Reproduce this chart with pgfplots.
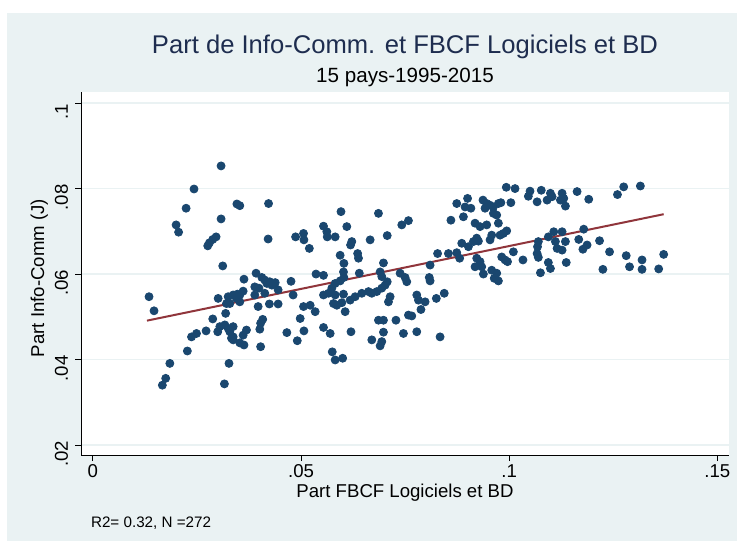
\documentclass[border=0pt]{standalone}
\usepackage{pgfplots}
\pgfplotsset{compat=1.18}
\usepackage{pgfplotstable}
\usepackage{fontspec}
\setmainfont{Liberation Sans}
\definecolor{bgblue}{HTML}{EAF2F3}
\definecolor{gridc}{HTML}{EAF2F3}
\definecolor{stnavy}{HTML}{1A476F}
\definecolor{stmaroon}{HTML}{90353B}
\definecolor{titlec}{HTML}{1E2D4F}

\pgfplotstableread{
x y
0.0308 0.0853
0.0243 0.0799
0.0346 0.0764
0.0353 0.0760
0.0224 0.0754
0.0200 0.0715
0.0206 0.0698
0.0308 0.0729
0.0296 0.0687
0.0288 0.0681
0.0280 0.0673
0.0276 0.0666
0.0312 0.0619
0.0135 0.0547
0.0147 0.0514
0.0301 0.0543
0.0325 0.0547
0.0337 0.0551
0.0347 0.0553
0.0321 0.0531
0.0319 0.0508
0.0288 0.0495
0.0305 0.0477
0.0300 0.0465
0.0317 0.0481
0.0325 0.0473
0.0329 0.0465
0.0333 0.0450
0.0337 0.0453
0.0272 0.0467
0.0249 0.0461
0.0237 0.0453
0.0227 0.0420
0.0185 0.0391
0.0175 0.0356
0.0167 0.0340
0.0327 0.0391
0.0316 0.0343
0.0353 0.0535
0.0353 0.0439
0.0422 0.0765
0.0421 0.0682
0.0487 0.0687
0.0506 0.0695
0.0507 0.0680
0.0520 0.0660
0.0554 0.0712
0.0562 0.0699
0.0563 0.0687
0.0582 0.0687
0.0596 0.0746
0.0594 0.0644
0.0363 0.0588
0.0392 0.0602
0.0406 0.0592
0.0413 0.0586
0.0425 0.0582
0.0438 0.0580
0.0361 0.0560
0.0389 0.0570
0.0399 0.0567
0.0476 0.0583
0.0536 0.0600
0.0554 0.0597
0.0594 0.0584
0.0345 0.0543
0.0353 0.0551
0.0329 0.0531
0.0418 0.0578
0.0430 0.0574
0.0445 0.0563
0.0389 0.0551
0.0413 0.0555
0.0424 0.0530
0.0445 0.0530
0.0397 0.0524
0.0481 0.0551
0.0408 0.0494
0.0403 0.0485
0.0401 0.0471
0.0337 0.0477
0.0337 0.0446
0.0369 0.0469
0.0361 0.0457
0.0363 0.0434
0.0403 0.0430
0.0466 0.0463
0.0507 0.0467
0.0491 0.0444
0.0498 0.0496
0.0506 0.0524
0.0522 0.0527
0.0534 0.0512
0.0554 0.0551
0.0566 0.0555
0.0574 0.0567
0.0582 0.0578
0.0554 0.0475
0.0570 0.0461
0.0575 0.0418
0.0582 0.0399
0.0686 0.0742
0.0610 0.0711
0.0622 0.0676
0.0619 0.0668
0.0666 0.0680
0.0707 0.0690
0.0742 0.0715
0.0758 0.0725
0.0603 0.0625
0.0602 0.0605
0.0603 0.0592
0.0636 0.0648
0.0638 0.0637
0.0640 0.0602
0.0698 0.0626
0.0690 0.0605
0.0694 0.0594
0.0707 0.0582
0.0702 0.0574
0.0738 0.0602
0.0750 0.0592
0.0754 0.0582
0.0810 0.0621
0.0808 0.0592
0.0810 0.0584
0.0828 0.0648
0.0582 0.0551
0.0602 0.0553
0.0578 0.0531
0.0586 0.0527
0.0606 0.0512
0.0598 0.0533
0.0618 0.0539
0.0630 0.0547
0.0646 0.0555
0.0662 0.0559
0.0670 0.0555
0.0682 0.0559
0.0694 0.0567
0.0714 0.0547
0.0710 0.0535
0.0778 0.0551
0.0782 0.0539
0.0798 0.0535
0.0788 0.0517
0.0825 0.0543
0.0686 0.0492
0.0698 0.0492
0.0728 0.0492
0.0758 0.0504
0.0766 0.0502
0.0620 0.0465
0.0698 0.0464
0.0746 0.0461
0.0778 0.0465
0.0670 0.0446
0.0694 0.0442
0.0690 0.0432
0.0834 0.0453
0.0600 0.0403
0.0993 0.0803
0.1014 0.0800
0.1050 0.0794
0.1046 0.0782
0.1077 0.0796
0.0874 0.0765
0.0894 0.0757
0.0900 0.0777
0.0908 0.0754
0.0890 0.0734
0.0860 0.0726
0.0937 0.0773
0.0946 0.0765
0.0954 0.0761
0.0962 0.0757
0.0974 0.0765
0.0980 0.0767
0.1004 0.0767
0.0942 0.0754
0.0962 0.0742
0.0970 0.0738
0.0974 0.0719
0.0918 0.0719
0.0930 0.0711
0.0946 0.0715
0.0958 0.0691
0.0954 0.0680
0.0978 0.0691
0.0986 0.0695
0.0994 0.0701
0.0922 0.0684
0.0926 0.0677
0.0914 0.0676
0.0902 0.0664
0.0886 0.0672
0.0874 0.0650
0.0854 0.0648
0.0881 0.0637
0.0922 0.0637
0.0930 0.0629
0.0934 0.0617
0.0918 0.0617
0.0938 0.0600
0.0958 0.0609
0.0964 0.0590
0.0974 0.0584
0.0970 0.0602
0.0982 0.0640
0.0990 0.0633
0.0996 0.0629
0.1010 0.0652
0.1033 0.0633
0.1068 0.0664
0.1067 0.0648
0.1070 0.0639
0.0844 0.0555
0.1075 0.0603
0.1275 0.0804
0.1260 0.0786
0.1315 0.0806
0.1067 0.0769
0.1091 0.0773
0.1099 0.0789
0.1103 0.0781
0.1127 0.0789
0.1131 0.0777
0.1135 0.0759
0.1123 0.0773
0.1163 0.0793
0.1191 0.0775
0.1107 0.0699
0.1094 0.0687
0.1127 0.0699
0.1179 0.0705
0.1111 0.0676
0.1115 0.0660
0.1127 0.0656
0.1135 0.0676
0.1167 0.0681
0.1187 0.0668
0.1177 0.0658
0.1217 0.0678
0.1241 0.0652
0.1281 0.0643
0.1319 0.0633
0.1371 0.0646
0.1094 0.0627
0.1099 0.0613
0.1137 0.0627
0.1225 0.0611
0.1289 0.0617
0.1319 0.0611
0.1359 0.0612
0.1070 0.0676
}\pts

\begin{document}
\begin{tikzpicture}
\useasboundingbox (0,0) rectangle (368.5pt,-271.5pt);
\fill[white] (0,0) rectangle (368.5pt,-271.5pt);
\fill[bgblue] (3.5pt,-6.5pt) rectangle (368.5pt,-270.5pt);
\begin{axis}[
  at={(40.5pt,-227.5pt)}, anchor=south west,
  scale only axis, width=324pt, height=181.6pt,
  xmin=-0.00284, xmax=0.15279, ymin=0.01766, ymax=0.10264,
  axis background/.style={fill=white},
  axis x line*=bottom, axis y line*=left,
  axis line style={black, line width=0.5pt, -},
  xtick={0,0.05,0.1,0.15}, xticklabels={0,.05,.1,.15},
  ytick={0.02,0.04,0.06,0.08,0.1}, yticklabels={.02,.04,.06,.08,.1},
  tick align=outside, major tick length=3pt,
  tick style={black, line width=0.5pt},
  ymajorgrids, grid style={gridc, line width=0.7pt},
  ticklabel style={font=\fontsize{9.3}{11}\selectfont},
  xticklabel style={yshift=1.8pt},
  yticklabel style={rotate=90, anchor=south, xshift=-4.5pt},
  clip=false,
]
\addplot[only marks, mark=*, mark size=2pt, color=stnavy, mark options={draw=stnavy, fill=stnavy}] table {\pts};
\addplot[stmaroon, line width=1pt] coordinates {(0.0130,0.0491) (0.1371,0.0740)};
\end{axis}
\node[text=titlec, anchor=base, font=\fontsize{12.8}{15}\selectfont] at (202.5pt,-26.5pt) {Part de Info-Comm. et FBCF Logiciels et BD};
\node[anchor=base, font=\fontsize{10.3}{12}\selectfont] at (202.5pt,-41pt) {15 pays-1995-2015};
\node[anchor=base, font=\fontsize{9.3}{11}\selectfont] at (202.5pt,-248.5pt) {Part FBCF Logiciels et BD};
\node[anchor=base, rotate=90, font=\fontsize{9.3}{11}\selectfont] at (22pt,-139pt) {Part Info-Comm (J)};
\node[anchor=base west, font=\fontsize{7.6}{9}\selectfont] at (42pt,-263.5pt) {R2= 0.32, N =272};
\end{tikzpicture}
\end{document}
